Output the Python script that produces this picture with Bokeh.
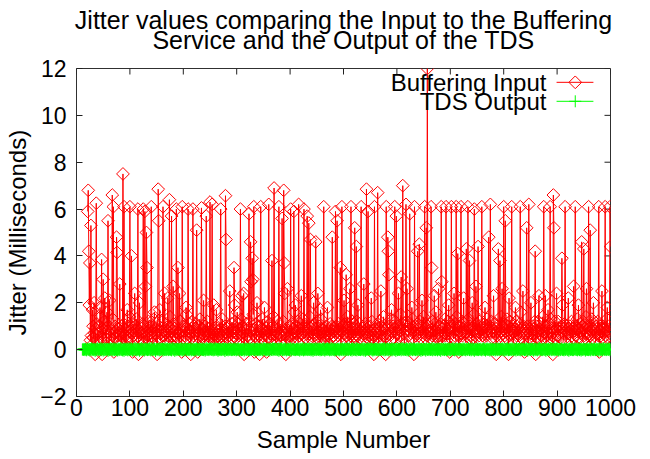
from bokeh.plotting import figure
from bokeh.layouts import column
from bokeh.models import Range1d, FixedTicker, Label, Title
from bokeh.embed import file_html
from bokeh.resources import INLINE

# ---------------- data ----------------
title_lines = ["Jitter values comparing the Input to the Buffering",
               "Service and the Output of the TDS"]
x_label = "Sample Number"
y_label = "Jitter (Milliseconds)"
series_names = ["Buffering Input", "TDS Output"]
x_ticks = [0, 100, 200, 300, 400, 500, 600, 700, 800, 900, 1000]
y_ticks = [-2, 0, 2, 4, 6, 8, 10, 12]

# Buffering Input: low-level jitter per sample (tenths of ms), samples 21..1000
input_first_sample = 21
input_base_tenths = [
    5, 9, 3, 12, 7, 4, 15, 6, 2, 8, 10, 5, 13, 7, -2, 9, 6, 11, 4, 8,
    7, 3, 10, 6, 14, 5, 8, -2, 9, 6, 4, 12, 7, 5, 9, 3, 16, 8, 6, 10,
    2, 7, 11, 5, 8, 4, 9, 13, 6, -1, 7, 10, 5, 8, 3, 12, 6, 9, 4, 7,
    11, 6, 8, 3, 10, 7, 18, 5, 9, 6, 2, 8, 12, 4, 7, 10, 5, 6, 14, 3,
    8, 5, 9, 7, -1, 11, 6, 8, 4, 10, 7, 13, 5, 9, 6, -2, 8, 12, 5, 7,
    9, 4, 7, 11, 6, 3, 10, 8, 15, 5, 7, 9, 2, 6, 12, 8, 4, 10, 7, 5,
    6, 10, 3, 8, 13, 5, 7, 9, 4, 11, -2, 8, 6, 10, 5, 17, 7, 4, 9, 6,
    12, 5, 8, 6, 0, 9, 7, 11, 4, 8, 6, 10, 3, 7, 14, 5, 9, 6, 8, 2,
    7, 11, 5, 9, 6, 4, 13, 8, 5, 10, 7, 3, 9, 12, 6, 8, -1, 7, 10, 5,
    8, 6, 10, 4, 7, 15, 5, 9, 3, 8, 11, 6, 7, -2, 9, 5, 12, 8, 6, 10,
    4, 9, 7, 11, 6, 8, -1, 10, 5, 7, 13, 6, 8, 4, 9, 7, 5, 16, 6, 3,
    10, 7, 5, 8, 12, 6, 9, 3, 7, 11, 5, 8, 6, 14, 4, 7, 10, 2, 9, 6,
    7, 12, 4, 9, 6, 8, 5, 11, 7, -2, 9, 6, 13, 5, 8, 7, 3, 10, 6, 8,
    5, 9, 7, 3, 10, 6, 18, 8, 4, 7, 11, 5, 9, 6, 2, 8, 12, 7, 5, 9,
    8, 4, 11, 6, 9, 7, 5, 13, 3, 8, 6, 10, 7, -2, 9, 5, 8, 11, 6, 4,
    9, 6, 8, 12, 5, 7, 10, 4, 8, 6, 15, 7, -1, 9, 6, 11, 5, 8, 7, 10,
    6, 8, -2, 10, 7, 5, 9, 13, 6, 8, 4, 11, 7, 6, 9, -1, 8, 12, 5, 7,
    11, 5, 9, 7, 4, 8, 6, 10, 14, 5, 7, 9, 3, 8, 6, 12, 7, 5, 10, 6,
    7, 10, 6, 3, 9, 8, 12, 5, 7, 11, 6, -2, 9, 7, 13, 5, 8, 6, 10, 4,
    8, 6, 11, 7, 5, 9, 4, 16, 8, 6, 10, 7, 5, 12, 3, 8, 9, 6, 7, 11,
    5, 9, 7, 13, 6, -1, 10, 8, 5, 7, 9, 11, 6, 4, 8, 7, 14, 5, 9, 6,
    10, 7, 4, 8, 11, 6, 9, -1, 7, 12, 5, 8, 6, 10, 7, 3, 9, 13, 6, 8,
    7, 5, 12, 6, 9, 8, 4, 10, 7, 15, 6, 8, 2, 9, 11, 5, 7, 10, 6, 8,
    9, 6, 8, 5, 13, 7, 10, 3, 8, 6, 11, 7, 9, 5, -2, 8, 12, 6, 7, 10,
    6, 11, 7, 9, 4, 8, 6, 14, 5, 9, 7, 10, 6, 8, 3, 12, 7, 5, 9, 6,
    8, 5, 10, 7, 12, 6, -1, 9, 7, 11, 5, 8, 13, 6, 9, 7, 4, 10, 8, 6,
    11, 7, 6, 9, 5, 17, 8, 6, 10, 4, 7, 9, 12, 5, 8, 6, -2, 11, 7, 9,
    5, 8, 10, 6, 7, 3, 9, 12, 6, 8, 10, 4, 7, 9, 14, 6, 8, 5, -2, 7,
    9, 6, 11, 8, 5, 10, 7, 4, 13, 6, 8, 7, 10, 5, 9, 6, 12, 3, 8, 7,
    7, 10, 5, 9, 6, 8, 15, 7, 4, 11, 6, 9, 7, 2, 10, 8, 5, 12, 6, 9,
    10, 6, 8, 4, 11, 7, 9, 6, 13, 5, 8, -2, 9, 7, 10, 6, 8, 11, 5, 7,
    6, 9, 12, 7, 5, 10, 3, 8, 6, 14, 7, 9, 5, 11, 8, 6, -2, 10, 7, 8,
    8, 7, 5, 10, 9, 6, 12, 4, 8, 7, 11, 6, 16, 8, 5, 9, 7, 3, 10, 6,
    5, 11, 7, 8, 3, 9, 6, 10, 7, 13, 6, 8, 4, 9, 7, 12, 5, 8, -1, 10,
    9, 6, 10, 7, 12, 5, 8, 6, 11, 4, 8, 14, 7, 9, 6, -1, 10, 7, 8, 5,
    7, 12, 6, 9, 5, 8, 11, 7, 3, 10, 6, 9, 8, 13, 5, 7, 10, 6, 9, 4,
    10, 5, 8, 15, 7, 6, 9, -2, 8, 11, 7, 5, 10, 6, 12, 8, 4, 9, 7, 6,
    6, 9, 7, 11, 4, 10, 8, 6, 13, 7, 9, 3, 8, 10, 6, 7, 12, 5, 9, 8,
    8, 11, 5, 7, 9, -2, 10, 6, 8, 12, 5, 7, 9, 6, 14, 8, 4, 10, 7, 6,
    11, 6, 9, 8, 5, 13, 7, 10, -2, 8, 6, 12, 7, 9, 5, 8, 10, 3, 7, 9,
    5, 8, 12, 6, 10, 7, 4, 9, 6, 11, 8, 16, 5, 7, 9, 6, 10, 8, -1, 7,
    9, 7, 6, 10, 8, 3, 11, 5, 9, 7, 13, 6, 8, 10, 4, 7, 9, 12, 6, -2,
    7, 10, 5, 8, 12, 6, 9, 7, 4, 11, 6, 8, 14, 5, 9, 7, 10, 6, 8, 3,
    10, 6, 9, 4, 7, 11, 8, 13, 5, 9, 7, -2, 10, 6, 8, 12, 5, 9, 7, 6,
    8, 12, 6, 9, 7, 5, 10, 8, 15, 6, 9, 4, 7, 11, 6, 8, 3, 10, 7, 9,
    6, 9, 7, 10, 3, 8, 12, 6, 9, 5, 11, 7, 8, -2, 10, 6, 9, 13, 5, 8,
    9, 5, 11, 7, 8, 6, 10, 4, 12, 7, 6, 9, 5, 14, 8, 7, 10, 6, -1, 9,
    7, 10, 6, 8, 13, 5, 9, 7, 11, 6, 8, 3, 10, 7, 9, 12, 6, 8, -1, 10,
    8, 6, 9, 12, 5, 10, 7, 4, 9, 11, 6, 8, 13, 7, 5, 10, 8, 6, 9, 7,
]

# Buffering Input: samples with larger jitter (ms)
peak_samples = [
    21, 22, 23, 24, 25, 27, 30, 33, 37, 44, 47, 50, 53, 59, 62, 67, 69, 75, 76, 81,
    87, 89, 95, 100, 103, 109, 115, 118, 125, 128, 129, 131, 132, 140, 146, 153, 154, 162, 165, 171,
    174, 178, 181, 187, 190, 193, 198, 205, 209, 218, 225, 234, 238, 243, 250, 254, 257, 262, 270, 279,
    280, 287, 295, 296, 301, 307, 310, 313, 323, 326, 327, 329, 330, 332, 338, 345, 352, 360, 366, 370,
    379, 385, 388, 389, 390, 395, 401, 407, 410, 416, 421, 426, 432, 435, 438, 444, 448, 452, 457, 463,
    470, 479, 485, 488, 494, 497, 501, 505, 512, 514, 521, 524, 527, 533, 538, 543, 546, 552, 558, 564,
    570, 580, 583, 584, 585, 590, 596, 599, 603, 608, 611, 617, 619, 624, 628, 633, 639, 642, 647, 652,
    655, 657, 664, 665, 670, 678, 683, 684, 692, 697, 702, 707, 711, 714, 720, 725, 730, 733, 736, 741,
    745, 748, 752, 759, 765, 772, 775, 781, 790, 793, 797, 800, 803, 810, 815, 822, 831, 836, 843, 847,
    851, 859, 866, 875, 878, 883, 887, 893, 894, 899, 909, 910, 915, 921, 931, 934, 940, 946, 950, 955,
    959, 962, 968, 978, 984, 990, 994, 999, 1000,
]
peak_values = [
    5.9, 6.8, 4.2, 1.9, 3.7, 5.3, 1.7, 2.0, 6.25, 1.8, 3.85, 3.0, 2.2, 5.5, 2.1, 6.6, 6.1, 4.8, 4.15, 2.8,
    7.5, 6.1, 1.7, 6.1, 4.0, 2.4, 6.0, 2.0, 6.0, 5.9, 2.7, 5.0, 3.5, 6.1, 1.6, 6.85, 5.5, 6.1, 2.4, 2.2,
    6.4, 5.7, 2.7, 6.0, 3.5, 2.4, 6.1, 1.8, 6.0, 6.0, 5.1, 6.05, 2.1, 5.7, 6.3, 6.2, 1.9, 1.7, 6.0, 6.57,
    4.7, 2.5, 3.5, 1.9, 1.6, 6.0, 2.3, 2.4, 5.8, 4.6, 2.9, 3.9, 3.0, 6.1, 2.0, 6.1, 1.8, 6.2, 3.8, 6.9,
    6.1, 5.6, 6.8, 3.7, 2.4, 2.6, 6.0, 5.9, 1.9, 6.2, 2.3, 6.0, 5.7, 5.4, 4.7, 2.0, 4.6, 2.4, 1.7, 6.1,
    1.8, 4.8, 5.9, 5.5, 3.5, 6.1, 2.1, 3.2, 2.6, 6.1, 5.2, 4.4, 1.9, 6.1, 2.8, 6.85, 5.9, 2.2, 6.1, 6.7,
    2.5, 6.1, 4.8, 4.2, 3.2, 1.7, 6.1, 5.7, 2.4, 3.1, 7.0, 6.2, 2.6, 5.8, 1.8, 6.1, 4.2, 4.5, 2.1, 6.1,
    5.2, 12.0, 6.1, 3.5, 2.3, 2.6, 6.1, 2.9, 6.1, 1.9, 6.1, 2.4, 6.1, 4.1, 6.1, 2.2, 4.3, 6.1, 3.8, 2.0,
    6.0, 2.7, 4.4, 6.1, 1.8, 4.8, 6.2, 2.3, 4.3, 3.8, 2.6, 6.1, 5.5, 2.2, 6.1, 1.8, 6.1, 2.5, 5.2, 6.2,
    2.0, 4.2, 2.3, 6.1, 2.3, 1.7, 6.1, 6.6, 5.2, 2.4, 3.9, 1.9, 6.1, 2.2, 2.7, 6.1, 1.9, 4.6, 4.3, 2.6,
    6.1, 5.1, 2.0, 6.1, 2.5, 6.1, 1.8, 6.1, 4.4,
]

# TDS Output: jitter per sample (hundredths of ms), samples 11..1000
output_first_sample = 11
output_hundredths = [
    0, 2, -1, 3, 1, -2, 4, 0, -3, 2, 5, -1, 1, 3, -4, 2, 0, 6, -2, 1,
    3, -1, 4, 0, -5, 2, 1, -2, 5, 3, -1, 0, 4, -3, 2, 6, -2, 1, 3, -4,
    1, 5, -2, 0, 3, -1, 4, 2, -6, 1, 3, -2, 5, 0, -1, 4, 2, -3, 1, 6,
    -2, 3, 0, 4, -1, 2, -4, 5, 1, -2, 3, 0, 7, -1, 2, -3, 4, 1, -5, 2,
    4, -1, 2, 0, 5, -3, 1, 3, -2, 6, 0, -1, 4, 2, -4, 1, 3, -2, 5, 0,
    2, -3, 5, 1, -1, 3, 0, -5, 4, 2, -2, 6, 1, -1, 3, 0, -4, 2, 5, -1,
    1, 4, -2, 3, 0, -1, 5, 2, -3, 1, 7, -2, 0, 3, -1, 4, 1, -6, 2, 3,
    -1, 2, 4, 0, -3, 5, 1, -2, 3, 0, 4, -4, 2, 1, -1, 6, 0, -2, 3, 1,
    5, -2, 1, 3, -1, 0, 4, -3, 2, 6, -1, 1, 3, -5, 2, 0, 4, -2, 1, 3,
    0, 3, -2, 4, 1, -1, 5, 2, -4, 0, 3, 1, -3, 6, 2, -1, 0, 4, -2, 1,
    3, -1, 2, 5, -3, 1, 0, 4, -2, 3, 1, -5, 2, 0, 6, -1, 3, 1, -2, 4,
    -3, 1, 4, 0, 2, -1, 5, -2, 3, 1, -4, 2, 0, 7, -1, 3, 1, -2, 4, 0,
    2, 5, -1, 3, 0, -3, 4, 1, -2, 6, 0, 2, -1, 3, -5, 1, 4, 0, -2, 3,
    1, -2, 3, 0, 4, -1, 2, -6, 5, 1, -1, 3, 0, -3, 4, 2, -1, 5, 0, -2,
    4, 0, -2, 3, 1, -1, 6, 2, -3, 0, 3, -1, 5, 1, -4, 2, 0, 3, -2, 1,
    -1, 3, 2, -4, 0, 5, 1, -2, 3, 0, 4, -1, 2, -3, 6, 1, -1, 0, 4, 2,
    3, -2, 0, 4, 1, -5, 3, 2, -1, 5, 0, -2, 3, 1, -1, 4, 2, -3, 0, 6,
    0, 4, -1, 2, -3, 1, 5, 0, -2, 3, 1, -4, 4, 2, -1, 0, 6, -2, 3, 1,
    2, -1, 5, 0, 3, -2, 1, 4, -5, 2, 0, 3, -1, 6, 1, -3, 2, 0, 4, -1,
    5, 1, -3, 2, 0, 4, -1, 3, -2, 1, 6, -4, 0, 2, 3, -1, 4, 1, -2, 0,
    -2, 3, 1, 0, 5, -1, 2, -4, 4, 1, -1, 3, 0, 7, -3, 2, 1, -2, 4, 0,
    1, 4, -2, 3, 0, -1, 5, 2, -3, 0, 4, 1, -5, 2, 3, -1, 0, 6, -2, 2,
    3, 0, -1, 5, 2, -3, 1, 4, -2, 0, 3, -1, 6, 1, -4, 2, 0, 3, -1, 5,
    -1, 2, 4, -3, 1, 0, 6, -2, 3, 1, -1, 5, 0, -4, 2, 3, -2, 1, 4, 0,
    2, -3, 1, 4, 0, -1, 3, 5, -2, 1, 0, 4, -5, 2, 3, -1, 6, 0, -2, 3,
    4, 1, -2, 0, 3, -4, 5, 2, -1, 3, 1, -2, 0, 6, -3, 2, 4, -1, 1, 0,
    0, -2, 3, 1, -1, 5, 2, -3, 4, 0, -5, 3, 1, -1, 2, 6, 0, -2, 3, 1,
    3, 5, -1, 2, -4, 0, 3, 1, -2, 4, 2, -1, 5, 0, -3, 1, 3, -2, 0, 4,
    1, -1, 4, 0, 2, -3, 6, 1, -2, 3, 0, 5, -1, 2, -4, 3, 1, 0, -2, 5,
    -3, 2, 0, 4, 1, -1, 3, -5, 2, 5, -2, 1, 0, 4, -1, 3, 2, -3, 6, 0,
    2, 4, -2, 1, 3, -1, 0, 5, -3, 2, 1, -4, 3, 0, 6, -1, 2, 4, -2, 1,
    5, -1, 3, 0, -2, 4, 1, -3, 2, 6, 0, -1, 3, 1, -5, 2, 4, -2, 0, 3,
    0, 3, 1, -4, 2, 5, -1, 0, 3, -2, 4, 1, -1, 2, 0, 7, -3, 1, 3, -1,
    4, -2, 0, 3, 1, -3, 5, 2, -1, 0, 3, -5, 2, 4, 1, -1, 3, 0, -2, 6,
    1, 2, -3, 4, 0, -1, 3, 5, -2, 1, -4, 3, 0, 2, 6, -1, 1, -3, 4, 2,
    -2, 4, 1, 0, 3, -1, 5, -4, 2, 1, 0, 3, -2, 5, 1, -1, 4, 0, -3, 2,
    3, 0, -1, 6, 2, -2, 1, 4, -3, 0, 5, 1, -1, 3, -5, 2, 0, 4, 1, -2,
    0, 5, -2, 1, 3, -1, 4, 0, -3, 2, 1, 6, -1, 0, 3, -4, 2, 1, 5, -1,
    2, -1, 3, -4, 1, 5, 0, -2, 4, 1, -1, 3, 2, -3, 0, 6, 1, -2, 3, 0,
    4, 1, -3, 2, 0, 3, -1, 5, -2, 1, 4, -5, 2, 0, 3, -1, 6, 1, -2, 3,
    -1, 3, 0, 4, -2, 1, 5, -3, 2, 0, 3, 1, -4, 6, 2, -1, 0, 3, -2, 4,
    1, -3, 5, 0, 2, -1, 3, 4, -2, 1, 0, -1, 6, 2, -5, 3, 1, 0, 4, -2,
    3, 2, -1, 4, 0, -4, 1, 3, -2, 5, 1, 0, -3, 2, 4, -1, 6, 0, 2, -2,
    0, 4, -2, 1, 3, -1, 5, 0, -5, 2, 3, -1, 1, 4, -3, 0, 2, 6, -2, 1,
    5, -1, 2, 0, 4, -3, 1, 3, -1, 6, 0, 2, -4, 1, 3, -2, 0, 5, 1, -1,
    2, 0, -3, 4, 1, -1, 3, 5, -2, 0, 2, -5, 4, 1, -1, 3, 0, 6, -2, 2,
    -2, 3, 1, 5, 0, -1, 4, -3, 2, 1, 6, -2, 0, 3, -4, 2, 1, -1, 4, 0,
    3, 1, -4, 2, 0, 5, -1, 3, -2, 4, 0, 1, -3, 6, 2, -1, 3, 0, -2, 5,
    1, -2, 4, 0, 3, -1, 2, -5, 5, 1, -1, 3, 0, 4, -3, 2, 6, -1, 1, 0,
    3, -2, 0, 4, 1, -1, 5, 2, -3, 1,
]

# ---------------- series ----------------
input_x = list(range(input_first_sample, input_first_sample + len(input_base_tenths)))
input_y = [v / 10.0 for v in input_base_tenths]
for s, v in zip(peak_samples, peak_values):
    i = s - input_first_sample
    if 0 <= i < len(input_y):
        input_y[i] = v

output_x = list(range(output_first_sample, output_first_sample + len(output_hundredths)))
output_y = [v / 100.0 for v in output_hundredths]

# ---------------- layout constants ----------------
FONT = "Liberation Sans"
RED = "#ff0000"
GREEN = "#00ff00"
TICK_COLOR = "#202020"

X0, X1 = x_ticks[0], x_ticks[-1]
Y0, Y1 = y_ticks[0], y_ticks[-1]
PAGE_W = 650
TITLE_H = 54
FRAME_W, FRAME_H = 534, 328
BORDER_L, BORDER_R, BORDER_T, BORDER_B = 76, 40, 14, 63
TICK_PX = 6

# ---------------- title strip (own small canvas above the plot) ----------------
pt = figure(width=PAGE_W, height=TITLE_H, x_range=Range1d(X0, X1), y_range=Range1d(0, 1),
            output_backend="svg", toolbar_location=None, title=None,
            min_border_left=BORDER_L, min_border_right=BORDER_R,
            min_border_top=0, min_border_bottom=0)
pt.axis.visible = False
pt.grid.visible = False
pt.outline_line_color = None
pt.background_fill_color = "white"
pt.border_fill_color = "white"
# second line nearest the strip's (empty) frame, first line stacked above it
pt.add_layout(Title(text=title_lines[1], align="center", text_font=FONT, text_font_size="25px",
                    text_font_style="normal", text_color="black", standoff=-26), "above")
pt.add_layout(Title(text=title_lines[0], align="center", text_font=FONT, text_font_size="25px",
                    text_font_style="normal", text_color="black", standoff=6), "above")

# ---------------- main plot ----------------
p = figure(width=PAGE_W, height=BORDER_T + FRAME_H + BORDER_B,
           x_range=Range1d(X0, X1), y_range=Range1d(Y0, Y1),
           output_backend="svg", toolbar_location=None, title=None,
           min_border_left=BORDER_L, min_border_right=BORDER_R,
           min_border_top=BORDER_T, min_border_bottom=BORDER_B)
p.background_fill_color = "white"
p.border_fill_color = "white"
p.outline_line_color = "#303030"
p.outline_line_width = 1
p.xgrid.visible = False
p.ygrid.visible = False

p.xaxis.ticker = FixedTicker(ticks=x_ticks, minor_ticks=[])
p.yaxis.ticker = FixedTicker(ticks=y_ticks, minor_ticks=[])
p.xaxis.axis_label = x_label
p.yaxis.axis_label = y_label
for ax in list(p.xaxis) + list(p.yaxis):
    ax.axis_line_color = None
    ax.major_tick_in = TICK_PX
    ax.major_tick_out = 0
    ax.major_tick_line_color = TICK_COLOR
    ax.major_tick_line_width = 1
    ax.minor_tick_line_color = None
    ax.major_label_text_font = FONT
    ax.major_label_text_font_size = "23px"
    ax.major_label_text_color = "black"
    ax.axis_label_text_font = FONT
    ax.axis_label_text_font_size = "24px"
    ax.axis_label_text_font_style = "normal"
    ax.axis_label_text_color = "black"
for ax in p.xaxis:
    ax.major_label_standoff = 2
    ax.axis_label_standoff = 7
for ax in p.yaxis:
    ax.major_label_standoff = 10
    ax.axis_label_standoff = 6

# mirrored (inward) ticks on the top and right border, at the same tick values
dx_tick = TICK_PX * (X1 - X0) / FRAME_W
dy_tick = TICK_PX * (Y1 - Y0) / FRAME_H
p.segment(x0=x_ticks, y0=[Y1] * len(x_ticks), x1=x_ticks, y1=[Y1 - dy_tick] * len(x_ticks),
          line_color=TICK_COLOR, line_width=1)
p.segment(x0=[X1] * len(y_ticks), y0=y_ticks, x1=[X1 - dx_tick] * len(y_ticks), y1=y_ticks,
          line_color=TICK_COLOR, line_width=1)

# ---------------- series drawing ----------------
p.line(input_x, input_y, line_color=RED, line_width=1)
p.scatter(input_x, input_y, marker="square", angle=0.7853981634, size=9,
          fill_color=None, line_color=RED, line_width=1)
p.line(output_x, output_y, line_color=GREEN, line_width=1)
p.scatter(output_x, output_y, marker="cross", size=12, line_color=GREEN, line_width=1)

# ---------------- legend (gnuplot style: text, then sample) ----------------
leg_text_x = 880
leg_line_x = [899, 968]
leg_mark_x = 934
leg_rows_y = [11.41, 10.6]

for name, yy in zip(series_names, leg_rows_y):
    p.add_layout(Label(x=leg_text_x, y=yy, text=name, text_align="right",
                       text_baseline="middle", text_font=FONT, text_font_size="24px",
                       text_color="black"))
p.line(leg_line_x, [leg_rows_y[0]] * 2, line_color=RED, line_width=1)
p.scatter([leg_mark_x], [leg_rows_y[0]], marker="square", angle=0.7853981634, size=9,
          fill_color=None, line_color=RED, line_width=1)
p.line(leg_line_x, [leg_rows_y[1]] * 2, line_color=GREEN, line_width=1)
p.scatter([leg_mark_x], [leg_rows_y[1]], marker="cross", size=12, line_color=GREEN, line_width=1)

layout = column(pt, p, spacing=0)
open("out.html", "w").write(file_html(layout, INLINE))
